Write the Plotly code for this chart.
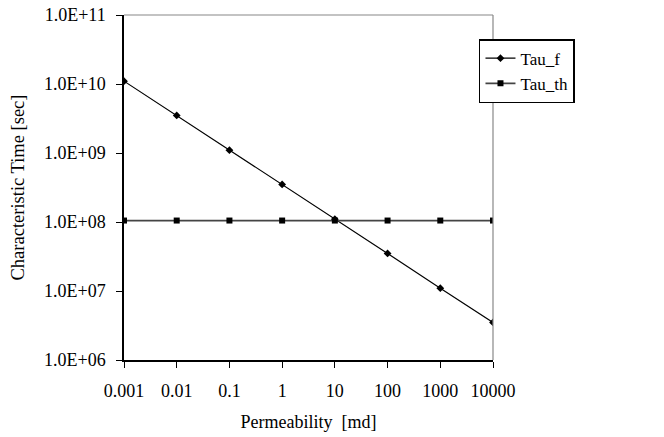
import plotly.graph_objects as go

permeability = [0.001, 0.01, 0.1, 1, 10, 100, 1000, 10000]
tau_f = [1.1e10, 3.5e9, 1.1e9, 3.5e8, 1.1e8, 3.5e7, 1.1e7, 3.5e6]
tau_th = [1.05e8] * 8

y_tickvals = [1e6, 1e7, 1e8, 1e9, 1e10, 1e11]
y_ticktext = ["1.0E+06", "1.0E+07", "1.0E+08", "1.0E+09", "1.0E+10", "1.0E+11"]
x_ticktext = ["0.001", "0.01", "0.1", "1", "10", "100", "1000", "10000"]

tfont = dict(family="Liberation Serif", size=18, color="black")

fig = go.Figure()
fig.add_trace(go.Scatter(x=permeability, y=tau_f, name="Tau_f", mode="lines+markers",
                         line=dict(color="black", width=1.2),
                         marker=dict(symbol="diamond", size=6, color="black")))
fig.add_trace(go.Scatter(x=permeability, y=tau_th, name="Tau_th", mode="lines+markers",
                         line=dict(color="#444444", width=1.8),
                         marker=dict(symbol="square", size=6, color="black")))

fig.update_layout(
    width=664, height=437,
    margin=dict(l=124, r=171, t=15, b=77),
    paper_bgcolor="white", plot_bgcolor="white",
    font=dict(family="Liberation Serif", size=18, color="black"),
    showlegend=True,
    legend=dict(x=0.962, y=0.93, xanchor="left", yanchor="top",
                bordercolor="black", borderwidth=1.5, bgcolor="white",
                font=dict(family="Liberation Serif", size=17, color="black"),
                itemwidth=30, tracegroupgap=0),
    xaxis=dict(type="log", range=[-3, 4], tickvals=permeability, ticktext=x_ticktext,
               showgrid=False, zeroline=False, showline=True, linecolor="black", linewidth=1.5,
               ticks="outside", ticklen=6, tickcolor="black", ticklabelstandoff=8,
               automargin=False,
               title=dict(text="Permeability  [md]",
                          font=dict(family="Liberation Serif", size=18, color="black")),
               tickfont=tfont),
    yaxis=dict(type="log", range=[6, 11], tickvals=y_tickvals, ticktext=y_ticktext,
               showgrid=False, zeroline=False, showline=True, linecolor="black", linewidth=1.5,
               ticks="outside", ticklen=6, tickcolor="black", ticklabelstandoff=7,
               automargin=False,
               title=dict(text="Characteristic Time [sec]",
                          font=dict(family="Liberation Serif", size=18.5, color="black")),
               tickfont=tfont),
    shapes=[
        dict(type="line", xref="paper", yref="paper", x0=0, x1=1, y0=1, y1=1,
             line=dict(color="#888888", width=1.2)),
        dict(type="line", xref="paper", yref="paper", x0=1, x1=1, y0=0, y1=1,
             line=dict(color="#888888", width=1.2)),
    ],
)

fig.write_html("out.html")
